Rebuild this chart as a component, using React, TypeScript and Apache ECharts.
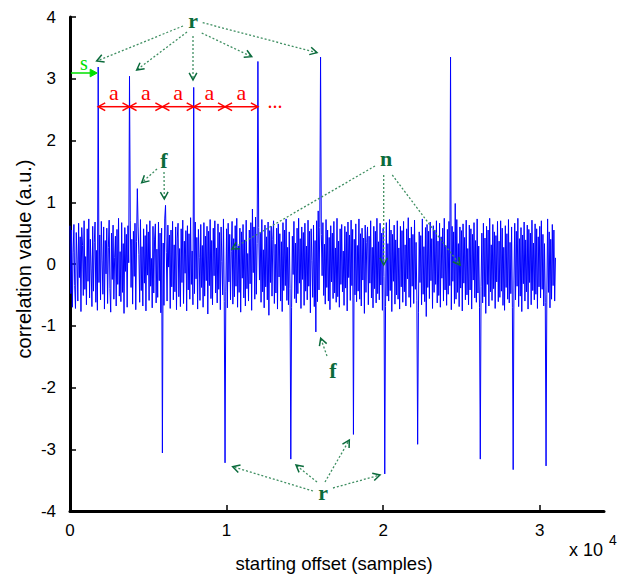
import React, { useEffect, useRef } from 'react';
import * as echarts from 'echarts';

// sample spacing of the correlation trace (samples)
const noiseStep = 50;
// background correlation values, one per noiseStep samples
const noiseValues = [
  0.62,-0.48,0.55,-0.70,0.18,0.64,-0.35,-0.72,0.51,0.08,-0.60,0.66,-0.22,0.44,-0.77,0.59,0.30,-0.51,0.70,-0.41,
  0.12,-0.66,0.57,-0.28,0.73,-0.55,0.40,-0.08,-0.69,0.61,-0.44,0.35,0.68,-0.62,0.22,-0.75,0.54,-0.30,0.47,-0.58,
  0.69,0.05,-0.49,0.60,-0.73,0.38,-0.16,0.58,-0.64,0.27,0.71,-0.40,-0.78,0.50,-0.25,0.63,-0.57,0.10,0.45,-0.68,
  0.56,-0.33,0.74,-0.52,0.20,-0.61,0.67,-0.46,0.33,-0.80,0.59,-0.12,0.48,-0.70,0.62,0.02,-0.55,0.71,-0.38,0.40,
  -0.65,0.53,-0.20,0.66,-0.74,0.36,-0.50,0.60,0.15,-0.62,0.72,-0.43,0.28,-0.68,0.57,-0.31,0.46,-0.76,0.64,-0.18,
  0.52,-0.59,0.70,-0.36,0.09,-0.71,0.61,-0.47,0.39,0.65,-0.63,0.24,-0.54,0.68,-0.27,0.50,-0.79,0.58,-0.40,0.34,
  -0.67,0.73,-0.51,0.19,-0.60,0.63,-0.05,0.47,-0.72,0.55,-0.37,0.69,-0.58,0.31,-0.45,0.60,-0.74,0.42,0.66,-0.53,
  0.25,-0.69,0.57,-0.30,0.71,-0.64,0.37,-0.15,0.54,-0.76,0.62,-0.42,0.49,-0.57,0.75,-0.33,0.21,-0.66,0.59,-0.48,
  0.68,-0.24,0.43,-0.73,0.56,0.11,-0.59,0.64,-0.38,0.30,-0.70,0.67,-0.52,0.45,-0.27,0.61,-0.81,0.53,-0.35,0.72,
  -0.56,0.38,-0.66,0.58,-0.19,0.70,-0.47,0.26,-0.63,0.65,-0.41,0.51,-0.74,0.60,0.04,-0.50,0.73,-0.61,0.35,-0.44,
  0.57,-0.71,0.66,-0.29,0.48,-0.58,0.20,0.69,-0.65,0.41,-0.53,0.62,-0.36,0.74,-0.70,0.29,-0.46,0.58,-0.78,0.52,
  -0.23,0.64,-0.55,0.39,-0.68,0.71,-0.40,0.17,-0.60,0.55,-0.32,0.67,-0.75,0.89,-0.14,0.60,-0.57,0.76,-0.49,0.33,
  -0.69,0.59,-0.26,0.50,-0.62,0.72,-0.45,0.23,-0.71,0.63,-0.37,0.44,-0.58,0.68,-0.83,0.54,-0.30,0.61,-0.52,0.40,
  0.70,-0.64,0.32,-0.47,0.58,-0.73,0.65,-0.21,0.49,-0.60,0.36,-0.77,0.67,-0.43,0.55,-0.35,0.73,-0.59,0.27,-0.66,
  0.52,-0.40,0.62,-0.70,0.45,-0.17,0.69,-0.56,0.34,-0.63,0.58,-0.48,0.74,-0.31,0.41,-0.72,0.60,-0.25,0.51,-0.67,
  0.66,-0.44,0.29,-0.58,0.71,-0.36,0.53,-0.79,0.57,0.06,-0.54,0.63,-0.69,0.38,-0.27,0.70,-0.61,0.86,-0.42,0.59,
  -0.73,0.48,-0.19,0.67,-0.51,0.32,-0.65,0.72,-0.38,0.55,-0.60,0.43,-0.74,0.62,-0.29,0.50,-0.56,0.69,-0.47,0.26,
  -0.62,0.74,-0.53,0.37,-0.70,0.57,-0.33,0.64,-0.45,0.21,-0.67,0.61,-0.39,0.52,-0.76,0.68,-0.22,0.47,-0.59,0.71,
  -0.35,0.56,-0.72,0.40,-0.50,0.65,-0.61,0.30,-0.44,0.73,-0.57,0.49,-0.68,0.58,-0.26,0.42,-0.80,0.63,-0.46,0.35,
  0.60,-0.66,0.45,-0.31,0.70,-0.55,0.27,-0.71,0.61,-0.40,0.53,-0.63,0.74,-0.48,0.36,-0.58,0.66,-0.34,0.50,-0.75,
  0.58,-0.20,0.44,-0.69,0.67,-0.52,0.33,-0.60,0.72,-0.43,0.55,-0.77,0.48,-0.28,0.63,-0.65,0.39,-0.50,0.70,-0.57,
  0.26,-0.73,0.61,-0.37,0.54,-0.62,0.69,-0.45,0.31,-0.68,0.57,-0.24,0.75,-0.54,0.42,-0.70,0.60,-0.36,0.48,-0.64,
  0.71,-0.41,0.35,-0.59,0.65,-0.78,0.52,-0.30,0.46,-0.66,0.73,-0.49,0.28,-0.61,0.59,-0.85,0.64,-0.38,0.53,-0.56,
  0.68,-0.27,0.41,-0.72,0.62,-0.46,0.55,-0.33,0.70,-0.63,0.37,-0.51,0.66,-0.70,0.44,-0.23,0.58,-0.60,0.74,-0.42,
  0.30,-0.67,0.56,-0.49,0.69,-0.35,0.47,-0.74,0.61,-0.28,0.52,-0.64,0.98,-0.57,0.72,-0.46,0.33,-0.69,0.60,-0.39,
  0.54,-0.76,0.65,-0.31,0.43,-0.58,0.71,-0.50,0.25,-0.66,0.63,-0.42,0.57,-0.73,0.48,-0.26,0.67,-0.55,0.38,-0.62,
  0.73,-0.47,0.29,-0.70,0.59,-0.36,0.50,-0.63,0.66,-0.53,0.42,-0.80,0.61,-0.33,0.55,-0.68,0.74,-0.45,0.31,-0.59,
  0.64,-0.40,0.52,-0.72,0.46,-0.29,0.69,-0.61,0.37,-0.54,0.70,-0.44,0.58,-0.67,0.27,-0.75,0.62,-0.38,0.49,-0.57,
  0.72,-0.63,0.35,-0.48,0.60,-0.71,0.43,-0.26,0.66,-0.58,0.53,-0.36,0.74,-0.69,0.41,-0.52,0.59,-0.77,0.47,-0.32,
  0.68,-0.60,0.39,-0.45,0.63,-0.73,0.56,-0.30,0.50,-0.66,0.71,-0.43,0.34,-0.58,0.65,-0.49,0.57,-0.72,0.44,-0.37,
  0.61,-0.55,0.70,-0.41,0.48,-0.68,0.33,-0.62,0.59,-0.50,0.73,-0.46,0.52,-0.71,0.40,-0.57,0.64,-0.35,0.55,-0.60,
  0.10
];
// correlation peaks (r = repetitions, f = false peaks)
const spikeOffsets = [1800, 3800, 4300, 5900, 6100, 7900, 9900, 12000, 14100, 15700, 16000, 18100, 20100, 22200, 24300, 26200, 28300, 30400];
const spikeValues  = [3.19, 3.04, 1.22, -3.06, 0.95, 2.86, -3.22, 3.28, -3.16, -1.10, 3.35, -2.76, -3.40, -2.92, 3.35, -3.16, -3.33, -3.27];
// offsets of repetitions marked with the "a" spacing arrows
const periodOffsets = [1800, 3800, 5900, 7900, 9900, 12000];
const periodLabels = ['a', 'a', 'a', 'a', 'a'];
const xTickValues = [0, 10000, 20000, 30000];
const yTickValues = [-4, -3, -2, -1, 0, 1, 2, 3, 4];

const DG = '#0b6b3c';
const DOT = '#3f8f62';

function buildData(): number[][] {
  const data = noiseValues.map((v, i) => [i * noiseStep, v]);
  spikeOffsets.forEach((x, k) => {
    const idx = Math.round(x / noiseStep);
    data[idx] = [x, spikeValues[k]];
  });
  return data;
}

function head(tx: number, ty: number, sx: number, sy: number, len: number, color: string, width: number, filled = false): any {
  const ang = Math.atan2(ty - sy, tx - sx);
  const a1 = ang + Math.PI - 0.5;
  const a2 = ang + Math.PI + 0.5;
  const p1 = [tx + len * Math.cos(a1), ty + len * Math.sin(a1)];
  const p2 = [tx + len * Math.cos(a2), ty + len * Math.sin(a2)];
  if (filled) {
    return { type: 'polygon', shape: { points: [p1, [tx, ty], p2] }, style: { fill: color, stroke: color, lineWidth: 1 }, z: 100 };
  }
  return { type: 'polyline', shape: { points: [p1, [tx, ty], p2] }, style: { stroke: color, lineWidth: width, fill: null }, z: 100 };
}

function dottedArrow(s: number[], t: number[]): any[] {
  return [
    { type: 'line', shape: { x1: s[0], y1: s[1], x2: t[0], y2: t[1] }, style: { stroke: DOT, lineWidth: 1.3, lineDash: [2, 2] }, z: 100 },
    head(t[0], t[1], s[0], s[1], 8, DG, 1.5),
  ];
}

function label(text: string, x: number, y: number, color: string, size: number, bold = true): any {
  return {
    type: 'text', x, y, z: 110,
    style: {
      text, fill: color, fontSize: size, fontWeight: bold ? 'bold' : 'normal',
      fontFamily: '"Liberation Serif", "DejaVu Serif", serif', align: 'center', verticalAlign: 'middle',
    },
  };
}

export default function App() {
  const ref = useRef<HTMLDivElement>(null);
  useEffect(() => {
    if (!ref.current) return;
    const chart = echarts.init(ref.current, null, { renderer: 'svg' });
    const sansFont = '"Liberation Sans", Arial, sans-serif';
    chart.setOption({
      animation: false,
      backgroundColor: '#ffffff',
      grid: { left: 70, right: 21, top: 17, bottom: 66, containLabel: false },
      xAxis: {
        type: 'value', min: 0, max: 34100,
        axisLine: { show: true, onZero: false, lineStyle: { color: '#000', width: 3 } },
        axisTick: { show: true, inside: true, length: 6, lineStyle: { color: '#000', width: 1.5 }, customValues: xTickValues },
        axisLabel: { color: '#000', fontSize: 17, fontFamily: sansFont, margin: 11, customValues: xTickValues, formatter: (v: number) => String(v / 10000) },
        splitLine: { show: false },
      },
      yAxis: {
        type: 'value', min: -4, max: 4, interval: 1,
        axisLine: { show: true, onZero: false, lineStyle: { color: '#000', width: 3 } },
        axisTick: { show: true, inside: true, length: 6, lineStyle: { color: '#000', width: 1.5 }, customValues: yTickValues },
        axisLabel: { color: '#000', fontSize: 17, fontFamily: sansFont, margin: 14, customValues: yTickValues },
        splitLine: { show: false },
      },
      series: [{
        type: 'line', data: buildData(), showSymbol: false, symbol: 'none',
        lineStyle: { color: '#0000ff', width: 1 }, z: 2,
      }],
    });

    const px = (x: number, y: number) => chart.convertToPixel({ gridIndex: 0 }, [x, y]) as number[];
    const g: any[] = [];
    // axis titles
    g.push({ type: 'text', x: 24, y: 259, rotation: Math.PI / 2, style: { text: 'correlation value (a.u.)', fill: '#000', fontSize: 20, fontFamily: sansFont, align: 'center', verticalAlign: 'middle' } });
    g.push({ type: 'text', x: 334, y: 563, style: { text: 'starting offset (samples)', fill: '#000', fontSize: 18.5, fontFamily: sansFont, align: 'center', verticalAlign: 'middle' } });
    g.push({ type: 'text', x: 586, y: 550, style: { text: 'x 10', fill: '#000', fontSize: 18, fontFamily: sansFont, align: 'center', verticalAlign: 'middle' } });
    g.push({ type: 'text', x: 613, y: 540, style: { text: '4', fill: '#000', fontSize: 14, fontFamily: sansFont, align: 'center', verticalAlign: 'middle' } });

    // top "r"
    g.push(label('r', 193, 20, DG, 22));
    [[[183, 26], [96.7, 61]], [[187, 32], [136.7, 70]], [[193, 36], [193, 80]], [[201.7, 33], [251.7, 56.7]], [[202.7, 22.7], [317, 52.7]]]
      .forEach(([s, t]) => g.push(...dottedArrow(s, t)));
    // upper "f"
    g.push(label('f', 164, 160, DG, 22));
    [[[157, 169], [141.7, 182.7]], [[164, 172], [164.3, 199]]].forEach(([s, t]) => g.push(...dottedArrow(s, t)));
    // "n"
    g.push(label('n', 386, 158, DG, 22));
    [[[375, 166], [232, 249]], [[383.7, 175], [383.7, 265]], [[392.3, 175], [460, 265]]].forEach(([s, t]) => g.push(...dottedArrow(s, t)));
    // lower "f"
    g.push(label('f', 333, 370, DG, 22));
    g.push(...dottedArrow([327, 356], [320.7, 338.3]));
    // lower "r"
    g.push(label('r', 323, 492, DG, 22));
    [[[313, 491], [232.7, 466.7]], [[317, 482], [296, 465]], [[325, 482], [349.3, 440]], [[333, 488], [380, 475]]]
      .forEach(([s, t]) => g.push(...dottedArrow(s, t)));

    // "s" start arrow
    const sx = px(spikeOffsets[0], 0)[0];
    g.push({ type: 'line', shape: { x1: 71, y1: 73, x2: sx - 2, y2: 73 }, style: { stroke: '#00e000', lineWidth: 1.5 }, z: 100 });
    g.push(head(sx - 1, 73, 71, 73, 8, '#00e000', 1.5, true));
    g.push(label('s', 84, 63, '#00e000', 20, false));

    // "a" spacing arrows
    const ay = 106.7;
    for (let i = 0; i < periodLabels.length; i++) {
      const x1 = px(periodOffsets[i], 0)[0];
      const x2 = px(periodOffsets[i + 1], 0)[0];
      g.push({ type: 'line', shape: { x1, y1: ay, x2, y2: ay }, style: { stroke: '#ff0000', lineWidth: 1.5 }, z: 100 });
      g.push(head(x1, ay, x2, ay, 8, '#ff0000', 1.5));
      g.push(head(x2, ay, x1, ay, 8, '#ff0000', 1.5));
      g.push(label(periodLabels[i], (x1 + x2) / 2, 92, '#ff0000', 22, false));
    }
    g.push(label('...', 275, 101, '#ff0000', 20, false));

    chart.setOption({ graphic: g });
    return () => chart.dispose();
  }, []);
  return <div ref={ref} style={{ width: 625, height: 577, position: 'absolute', left: 0, top: 0 }} />;
}
